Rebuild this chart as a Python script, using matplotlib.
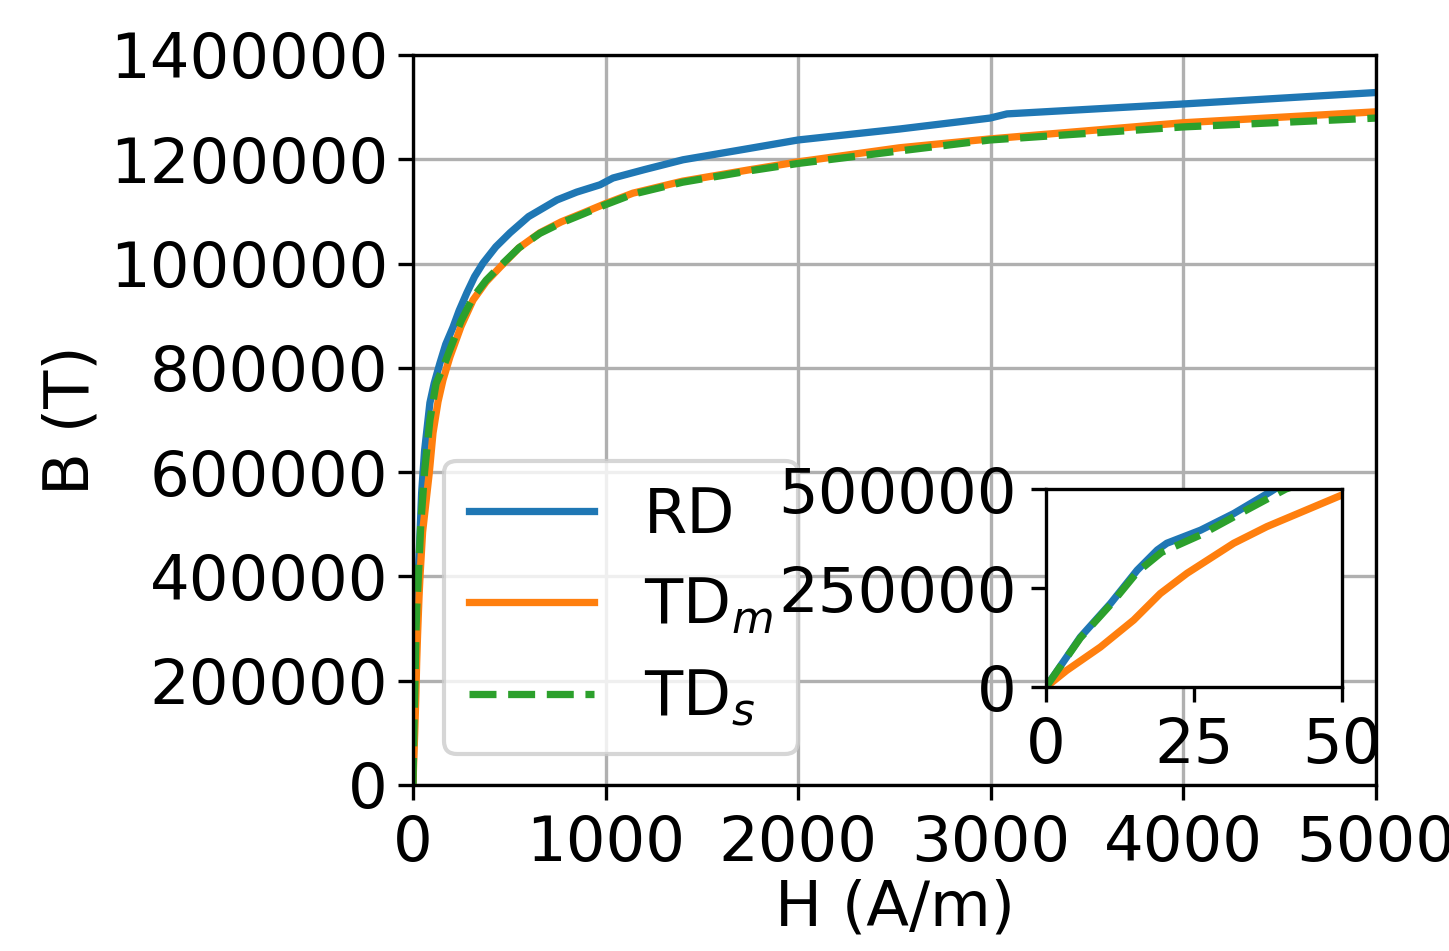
import numpy as np
import matplotlib.pyplot as plt

# B-H curves
h_rd = [0, 5.8, 10.9, 15.4, 18.8, 20.4, 26.1, 31.7, 37.9, 45, 60, 88, 110, 140, 170,
        208, 240, 280, 320, 364, 430, 504, 600, 748, 850, 971, 1038, 1200, 1402, 1750,
        2000, 2526, 2996, 3084, 3998, 5000]
b_rd = [0, 126e3, 211e3, 295e3, 346e3, 363e3, 396e3, 438e3, 493e3, 560e3, 640e3, 733e3,
        770e3, 809e3, 845e3, 878e3, 910e3, 944e3, 975e3, 1001e3, 1032e3, 1059e3, 1090e3,
        1122e3, 1137e3, 1151e3, 1164e3, 1180e3, 1199e3, 1221e3, 1237e3, 1258e3, 1279e3,
        1287e3, 1306e3, 1328e3]

h_tdm = [0, 3.5, 9.2, 14.8, 19.3, 23.8, 31.7, 37.3, 50, 85, 104, 130, 156, 192, 250,
         312, 380, 452, 550, 659, 770, 883, 1000, 1142, 1400, 1750, 2000, 2526, 2996,
         3998, 5000]
b_tdm = [0, 42e3, 101e3, 169e3, 236e3, 287e3, 363e3, 405e3, 485e3, 600e3, 675e3, 735e3,
         777e3, 821e3, 880e3, 930e3, 965e3, 993e3, 1030e3, 1059e3, 1080e3, 1097e3,
         1115e3, 1135e3, 1158e3, 1180e3, 1195e3, 1222e3, 1239e3, 1270e3, 1291e3]

h_tds = [0, 5.8, 10.9, 15.4, 19.5, 26.1, 33, 40.5, 60, 88, 120, 156, 192, 250, 312,
         380, 452, 550, 659, 770, 883, 1000, 1142, 1400, 1750, 2000, 2526, 2996, 3998,
         5000]
b_tds = [0, 124e3, 208e3, 290e3, 340e3, 384e3, 440e3, 500e3, 600e3, 700e3, 770e3,
         800e3, 835e3, 890e3, 935e3, 968e3, 995e3, 1030e3, 1058e3, 1078e3, 1095e3,
         1113e3, 1133e3, 1156e3, 1178e3, 1192e3, 1216e3, 1237e3, 1262e3, 1279e3]

plt.rcParams['font.size'] = 15
plt.rcParams['lines.linewidth'] = 1.75

fig = plt.figure(figsize=(4.83, 3.17), dpi=300)
ax = fig.add_axes([0.285, 0.1746, 0.6647, 0.7676])
ax.plot(h_rd, b_rd, label='RD')
ax.plot(h_tdm, b_tdm, label='TD$_m$')
ax.plot(h_tds, b_tds, '--', label='TD$_s$')
ax.set_xlim(0, 5000)
ax.set_ylim(0, 1400000)
ax.set_xticks([0, 1000, 2000, 3000, 4000, 5000])
ax.set_yticks(np.arange(0, 1400001, 200000))
ax.ticklabel_format(style='plain', useOffset=False)
ax.tick_params(axis='y', pad=2.5)
ax.grid(True)
ax.set_xlabel('H (A/m)', labelpad=1)
ax.set_ylabel('B (T)', labelpad=2)
ax.legend(loc='lower left')

# zoom on the origin
axins = fig.add_axes([0.7219, 0.2776, 0.2043, 0.2082])
axins.plot(h_rd, b_rd)
axins.plot(h_tdm, b_tdm)
axins.plot(h_tds, b_tds, '--')
axins.set_xlim(0, 50)
axins.set_ylim(0, 500000)
axins.set_xticks([0, 25, 50])
axins.set_yticks([0, 250000, 500000])

fig.savefig('out.png', dpi=300)
